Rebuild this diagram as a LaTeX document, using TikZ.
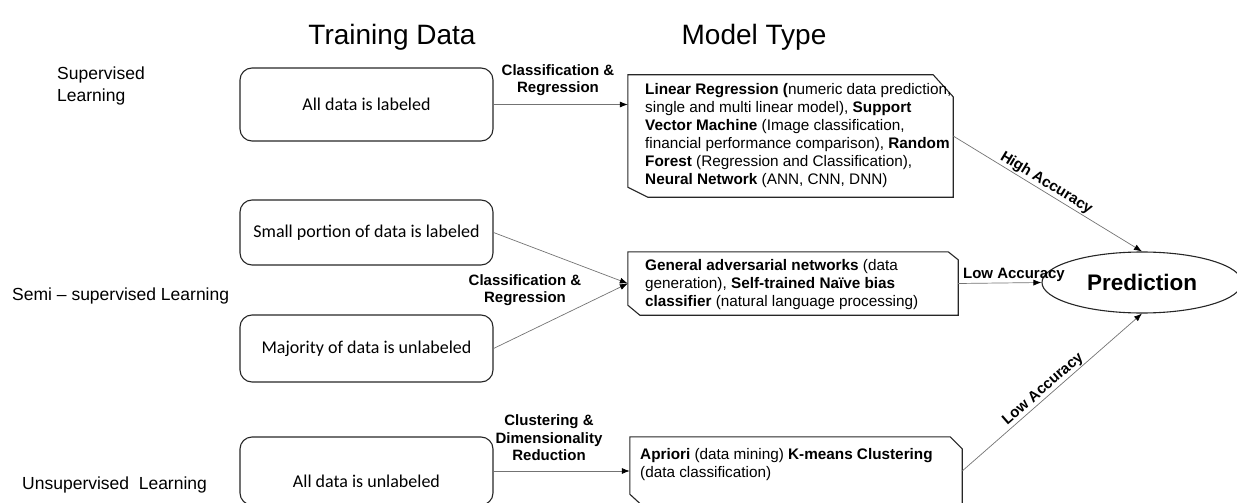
\documentclass[tikz,border=0pt]{standalone}
\usepackage{fontspec}
\setmainfont{Liberation Sans}
\newfontfamily\boxfont{Carlito}
\usetikzlibrary{arrows.meta,shapes.geometric}

\tikzset{
  title/.style={font=\fontsize{28}{32}\selectfont, anchor=base},
  side/.style={font=\fontsize{17.5}{21}\selectfont, anchor=base west, align=left, inner sep=0pt},
  databox/.style={draw=black!85, line width=1.1pt, rounded corners=12pt,
    minimum width=253pt, font=\boxfont\fontsize{18}{22}\selectfont, inner sep=0pt},
  modelbox/.style={draw=none, inner sep=0pt},
  outline/.style={draw=black!85, line width=1.1pt, line join=miter},
  modeltext/.style={font=\fontsize{15.3}{18}\selectfont, align=left, inner sep=0pt},
  lbl/.style={font=\bfseries\fontsize{15}{17.5}\selectfont, align=center, inner sep=1pt},
  conn/.style={draw=black!55, line width=0.7pt, -{Latex[color=black,length=8pt,width=6pt]}},
}

\begin{document}
\begin{tikzpicture}[x=1pt,y=-1pt]
\useasboundingbox (0,0) rectangle (1237,503);
\clip (0,0) rectangle (1237,503);

% column headings
\node[title] (hdata) at (392,45) {Training Data};
\node[title] (hmodel) at (754,45) {Model Type};

% learning categories
\node[side] (sup) at (57,101) {Supervised\\Learning};
\node[side] (semi) at (12,300) {Semi -- supervised Learning};
\node[side] (unsup) at (22,489) {Unsupervised\hspace{0.55em}Learning};

% training data boxes
\node[databox, minimum height=73pt] (d1) at (366.5,104.5) {All data is labeled};
\node[databox, minimum height=65pt] (d2) at (366.5,232.5) {Small portion of data is labeled};
\node[databox, minimum height=67pt] (d3) at (366.5,348.5) {Majority of data is unlabeled};
\node[databox, minimum height=68pt, text depth=0pt] (d4) at (366.5,471) {\raisebox{-16pt}{All data is unlabeled}};

% model boxes (frames with cut corners)
\node[modelbox, minimum width=325pt, minimum height=122pt] (m1) at (790.5,136) {};
\draw[outline] (m1.north west) -- ([xshift=-20pt]m1.north east) -- ([yshift=-22pt]m1.north east)
  -- (m1.south east) -- ([xshift=20pt]m1.south west) -- ([yshift=10pt]m1.south west) -- cycle;
\node[modeltext, anchor=west] (m1t) at (645,136) {%
  \textbf{Linear Regression (}numeric data prediction,\\
  single and multi linear model), \textbf{Support}\\
  \textbf{Vector Machine} (Image classification,\\
  financial performance comparison), \textbf{Random}\\
  \textbf{Forest} (Regression and Classification),\\
  \textbf{Neural Network} (ANN, CNN, DNN)};

\node[modelbox, minimum width=330pt, minimum height=63pt] (m2) at (793,283.5) {};
\draw[outline] (m2.north west) -- ([xshift=-10pt]m2.north east) -- ([yshift=-8pt]m2.north east)
  -- (m2.south east) -- ([xshift=12pt]m2.south west) -- ([yshift=10pt]m2.south west) -- cycle;
\node[modeltext, anchor=west] (m2t) at (645,285) {%
  \textbf{General adversarial networks} (data\\
  generation), \textbf{Self-trained Naïve bias}\\
  \textbf{classifier} (natural language processing)};

\node[modelbox, minimum width=332pt, minimum height=68pt] (m3) at (796,471) {};
\draw[outline] (m3.north west) -- ([xshift=-12pt]m3.north east) -- ([yshift=-12pt]m3.north east)
  -- (m3.south east) -- ([xshift=12pt]m3.south west) -- ([yshift=11pt]m3.south west) -- cycle;
\node[modeltext, anchor=north west] (m3t) at (640,448) {%
  \textbf{Apriori} (data mining) \textbf{K-means Clustering}\\
  (data classification)};

% outcome
\node[ellipse, draw=black!85, line width=1.1pt, minimum width=200pt, minimum height=61pt,
  inner sep=0pt, font=\bfseries\fontsize{22.5}{26}\selectfont] (pred) at (1142,282.5) {Prediction};

% connectors
\draw[conn] (d1.east) -- (d1.east -| m1.west);
\node[lbl] (l1) at (558,80) {Classification \&\\Regression};

\draw[conn] (d2.east) -- (m2.west);
\draw[conn] (d3.east) -- (m2.west);
\node[lbl] (l2) at (525,290) {Classification \&\\Regression};

\draw[conn] (d4.east) -- (d4.east -| m3.west);
\node[lbl] (l3) at (549,438) {Clustering \&\\Dimensionality\\Reduction};

\draw[conn] (m1.east) -- node[lbl, sloped, above, pos=0.47] (l4) {High Accuracy} (pred.north);
\draw[conn] (m2.east) -- node[lbl, above, pos=0.67] (l5) {Low Accuracy} (pred.west);
\draw[conn] (m3.east) -- node[lbl, sloped, above, pos=0.48] (l6) {Low Accuracy} (pred.south);
\end{tikzpicture}
\end{document}
